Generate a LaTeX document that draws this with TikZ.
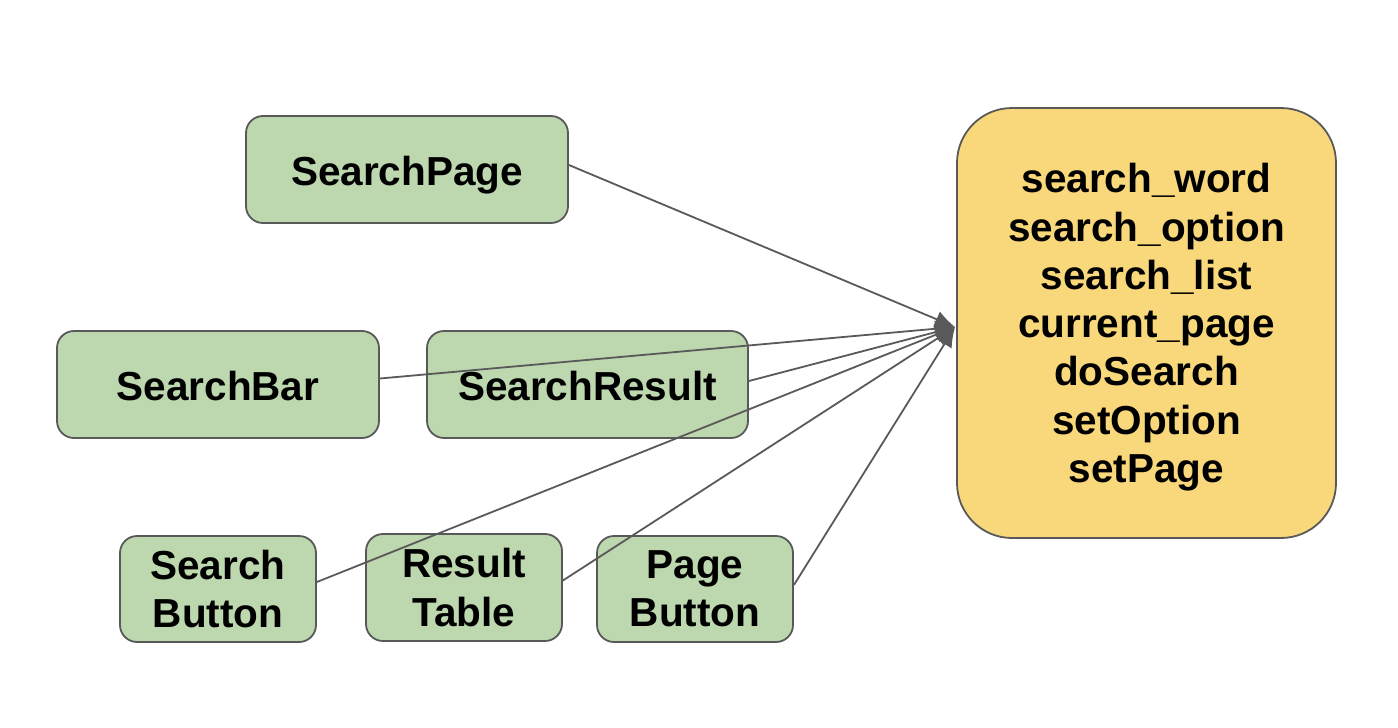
\documentclass[tikz,border=0pt]{standalone}
\usepackage{fontspec}
\setmainfont{Liberation Sans}
\usetikzlibrary{arrows.meta,calc}
\definecolor{boxgreen}{HTML}{BDD7AE}
\definecolor{boxyellow}{HTML}{F9D87B}
\definecolor{edgegray}{HTML}{595959}
\begin{document}
\begin{tikzpicture}[x=1pt,y=-1pt,
  gbox/.style={draw=edgegray, line width=1.8pt, fill=boxgreen, rounded corners=17pt,
    inner sep=0pt, align=center, font=\fontsize{40.5}{48.3}\selectfont\bfseries},
  oneline/.style={text height=34pt, text depth=3pt},
  ybox/.style={draw=edgegray, line width=1.8pt, fill=boxyellow, rounded corners=55pt,
    inner sep=0pt, align=center, text depth=0pt, font=\fontsize{40.5}{48.3}\selectfont\bfseries},
  conn/.style={draw=edgegray, line width=1.8pt, -{Latex[length=20pt,width=17pt]}}]
\useasboundingbox (0,0) rectangle (1398,728);
\node[gbox, oneline, minimum width=322, minimum height=107] (sp) at (407,169.5) {SearchPage};
\node[gbox, oneline, minimum width=322, minimum height=107] (sb) at (218,384.5) {SearchBar};
\node[gbox, oneline, minimum width=321, minimum height=107] (sr) at (587.5,384.5) {SearchResult};
\node[gbox, minimum width=196, minimum height=106] (bt) at (218,589) {Search\\Button};
\node[gbox, minimum width=196, minimum height=107] (rt) at (464,587.5) {Result\\Table};
\node[gbox, minimum width=196, minimum height=106] (pb) at (695,589) {Page\\Button};
\node[ybox, minimum width=379, minimum height=430] (vars) at (1146.5,323)
  {search\_word\\search\_option\\search\_list\\current\_page\\doSearch\\setOption\\setPage};
\coordinate (tgt) at ($(vars.west)+(-1,4)$);
\draw[conn] ($(sp.east)+(0,-4.5)$) -- (tgt);
\draw[conn] ($(sb.east)+(0,-6)$) -- (tgt);
\draw[conn] ($(sr.east)+(0,-3.5)$) -- (tgt);
\draw[conn] ($(bt.east)+(0,-7)$) -- (tgt);
\draw[conn] ($(rt.east)+(0,-7)$) -- (tgt);
\draw[conn] ($(pb.east)+(0,-4)$) -- (tgt);
\end{tikzpicture}
\end{document}
